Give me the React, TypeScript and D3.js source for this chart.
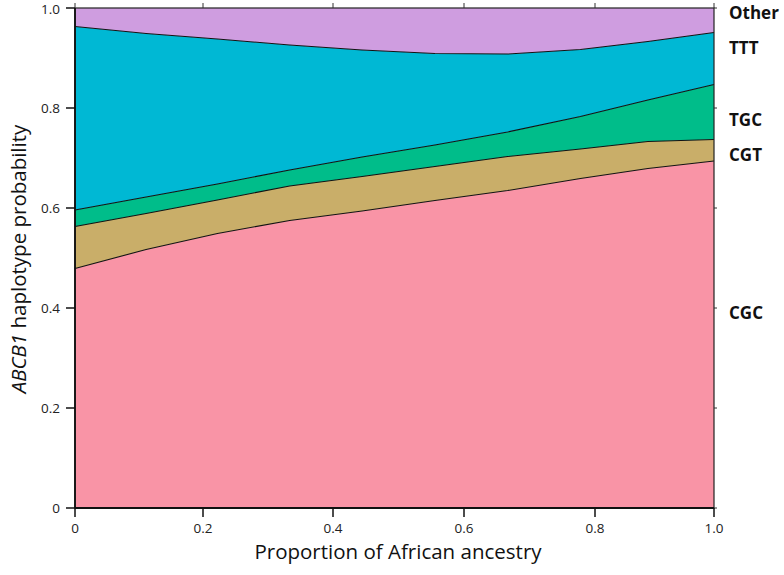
import React from "react";
import * as d3 from "d3";

const ancestry = [0, 1 / 9, 2 / 9, 3 / 9, 4 / 9, 5 / 9, 6 / 9, 7 / 9, 8 / 9, 1];
const haplotypes = ["CGC", "CGT", "TGC", "TTT", "Other"];
const CGC = [0.479, 0.517, 0.549, 0.575, 0.594, 0.615, 0.635, 0.659, 0.679, 0.694];
const CGT = [0.084, 0.072, 0.067, 0.069, 0.069, 0.068, 0.068, 0.059, 0.054, 0.043];
const TGC = [0.033, 0.033, 0.032, 0.032, 0.039, 0.043, 0.049, 0.065, 0.083, 0.11];
const TTT = [0.367, 0.327, 0.29, 0.25, 0.214, 0.183, 0.156, 0.134, 0.117, 0.104];
const Other = [0.037, 0.051, 0.062, 0.074, 0.084, 0.091, 0.092, 0.083, 0.067, 0.049];
const xTicks = [0, 0.2, 0.4, 0.6, 0.8, 1.0];
const xTickLabels = ["0", "0.2", "0.4", "0.6", "0.8", "1.0"];
const yTicks = [0, 0.2, 0.4, 0.6, 0.8, 1.0];
const yTickLabels = ["0", "0.2", "0.4", "0.6", "0.8", "1.0"];
const colors = ["#F994A6", "#C9AE69", "#00BD8A", "#00B8D4", "#CF9DE0"];
const labelValues = [0.39, 0.706, 0.775, 0.92, 0.99];

export default function App() {
  const W = 784, H = 575;
  const x = d3.scaleLinear().domain(xTicks).range([75, 203, 333, 464, 595, 714]);
  const y = d3.scaleLinear().domain([0, 1]).range([508, 8]);
  const rows = ancestry.map((a, i) => ({
    a,
    CGC: CGC[i],
    CGT: CGT[i],
    TGC: TGC[i],
    TTT: TTT[i],
    Other: Other[i],
  }));
  const series = d3.stack<any>().keys(haplotypes)(rows);
  const area = d3
    .area<any>()
    .x((d) => x(d.data.a))
    .y0((d) => y(d[0]))
    .y1((d) => y(d[1]));
  const line = d3
    .line<any>()
    .x((d) => x(d.data.a))
    .y((d) => y(d[1]));
  const font = "'Open Sans', 'Noto Sans', sans-serif";
  return (
    <svg width={W} height={H} style={{ position: "absolute", left: 0, top: 0, background: "#fff" }}>
      {series.map((s, i) => (
        <path key={s.key} d={area(s) || ""} fill={colors[i]} />
      ))}
      {series.slice(0, 4).map((s) => (
        <path key={s.key + "l"} d={line(s) || ""} fill="none" stroke="#111" strokeWidth={1.1} />
      ))}
      {/* frame */}
      <rect x={75} y={8} width={714 - 75} height={500} fill="none" stroke="#222" strokeWidth={1.2} />
      {/* left axis */}
      <line x1={75} x2={75} y1={8} y2={508} stroke="#111" strokeWidth={1.8} />
      {yTicks.map((t, i) => (
        <g key={"y" + t}>
          <line x1={66} x2={75} y1={y(t)} y2={y(t)} stroke="#111" strokeWidth={1.5} />
          <line x1={714} x2={717} y1={y(t)} y2={y(t)} stroke="#333" strokeWidth={1} />
          <text
            x={60}
            y={y(t) + (t === 1 ? 1.5 : 0)}
            dy="0.35em"
            textAnchor="end"
            fontFamily={font}
            fontSize={13.5}
            fill="#222"
          >
            {yTickLabels[i]}
          </text>
        </g>
      ))}
      {/* bottom axis */}
      <line x1={75} x2={714} y1={508} y2={508} stroke="#111" strokeWidth={1.8} />
      {xTicks.map((t, i) => (
        <g key={"x" + t}>
          <line x1={x(t)} x2={x(t)} y1={508} y2={517} stroke="#111" strokeWidth={1.5} />
          <line x1={x(t)} x2={x(t)} y1={3} y2={8} stroke="#333" strokeWidth={1} />
          <text x={x(t)} y={528} dy="0.35em" textAnchor="middle" fontFamily={font} fontSize={13.5} fill="#222">
            {xTickLabels[i]}
          </text>
        </g>
      ))}
      <text x={398} y={552} dy="0.35em" textAnchor="middle" fontFamily={font} fontSize={20.5} fill="#111">
        Proportion of African ancestry
      </text>
      <text
        transform={`translate(19,${y(0.5) + 1}) rotate(-90)`}
        dy="0.35em"
        textAnchor="middle"
        fontFamily={font}
        fontSize={20.5}
        fill="#111"
      >
        <tspan fontStyle="italic">ABCB1</tspan>
        <tspan> haplotype  probability</tspan>
      </text>
      {haplotypes.map((h, i) => (
        <text
          key={"lab" + h}
          x={729}
          y={y(labelValues[i])}
          dy="0.35em"
          fontFamily={font}
          fontSize={17}
          fontWeight="bold"
          fill="#111"
        >
          {h}
        </text>
      ))}
    </svg>
  );
}
